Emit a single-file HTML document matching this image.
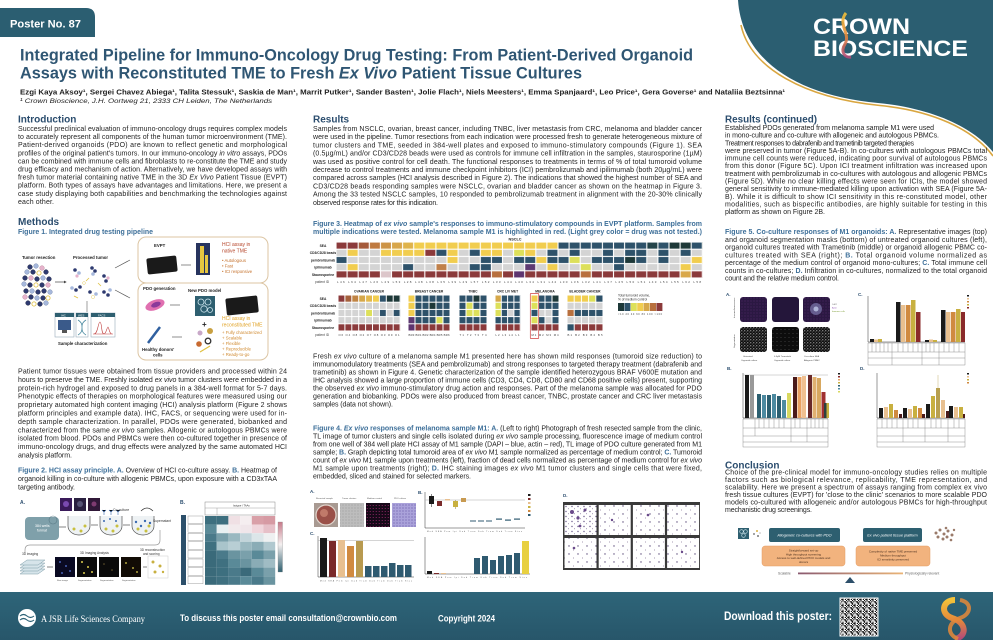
<!DOCTYPE html>
<html><head><meta charset="utf-8"><title>Poster No. 87</title>
<style>
html,body{margin:0;padding:0;background:#fff;width:993px;height:640px;overflow:hidden}
svg{display:block}
text{font-family:"Liberation Sans",Arial,sans-serif}
.p{font-size:7px;fill:#1f1f1f}
.h{font-size:10px;font-weight:bold;fill:#2b4d6e}
.fc{font-size:7px;font-weight:bold;fill:#3d6f99}
.i{font-style:italic}
.k{fill:#1f1f1f;font-weight:normal}
.t4{font-size:4.3px;font-weight:bold;fill:#222}
.t3{font-size:3.2px;fill:#333}
.lb{font-size:3.6px;fill:#222}
.ft{fill:#fff;font-weight:bold}
</style></head><body>
<svg width="993" height="640" viewBox="0 0 993 640" xmlns="http://www.w3.org/2000/svg">
<defs>
<linearGradient id="fg" x1="0" y1="0" x2="0" y2="1"><stop offset="0" stop-color="#2e6579"/><stop offset="1" stop-color="#27566a"/></linearGradient>
<linearGradient id="rib" x1="0" y1="0" x2="0" y2="1"><stop offset="0" stop-color="#f3c23a"/><stop offset="0.5" stop-color="#e58a3a"/><stop offset="1" stop-color="#b04a7a"/></linearGradient>
<linearGradient id="scl" x1="0" y1="0" x2="1" y2="0"><stop offset="0" stop-color="#8a5a70"/><stop offset="1" stop-color="#eab477"/></linearGradient>
<linearGradient id="cb" x1="0" y1="0" x2="0" y2="1"><stop offset="0" stop-color="#c77a8a"/><stop offset="0.45" stop-color="#f4f0f0"/><stop offset="1" stop-color="#2f6070"/></linearGradient>
<pattern id="gN" x="336" y="242" width="11.1" height="7.2" patternUnits="userSpaceOnUse"><rect width="11.1" height="7.2" fill="none" stroke="#fff" stroke-width="1.1"/></pattern>
<pattern id="gO" x="338" y="295" width="6.9" height="7.2" patternUnits="userSpaceOnUse"><rect width="6.9" height="7.2" fill="none" stroke="#fff" stroke-width="1"/></pattern>
<pattern id="gB" x="408" y="295" width="7" height="7.2" patternUnits="userSpaceOnUse"><rect width="7" height="7.2" fill="none" stroke="#fff" stroke-width="1"/></pattern>
<pattern id="gT" x="459" y="295" width="7" height="7.2" patternUnits="userSpaceOnUse"><rect width="7" height="7.2" fill="none" stroke="#fff" stroke-width="1"/></pattern>
<pattern id="gC" x="495" y="295" width="6.3" height="7.2" patternUnits="userSpaceOnUse"><rect width="6.3" height="7.2" fill="none" stroke="#fff" stroke-width="1"/></pattern>
<pattern id="gM" x="531" y="295" width="7" height="7.2" patternUnits="userSpaceOnUse"><rect width="7" height="7.2" fill="none" stroke="#fff" stroke-width="1"/></pattern>
<pattern id="gL" x="567" y="295" width="7.2" height="7.2" patternUnits="userSpaceOnUse"><rect width="7.2" height="7.2" fill="none" stroke="#fff" stroke-width="1"/></pattern>
<pattern id="spk" width="3" height="3" patternUnits="userSpaceOnUse"><rect width="3" height="3" fill="#0d0d0d"/><circle cx="0.8" cy="0.8" r="0.55" fill="#e8e8e8"/><circle cx="2.2" cy="2" r="0.45" fill="#9a9a9a"/></pattern>
<pattern id="spk2" width="4" height="4" patternUnits="userSpaceOnUse"><rect width="4" height="4" fill="#0d0d0d"/><circle cx="1" cy="1.5" r="0.4" fill="#777"/></pattern>
<pattern id="pur" width="3" height="3" patternUnits="userSpaceOnUse"><rect width="3" height="3" fill="#2b1842"/><circle cx="1" cy="1" r="0.5" fill="#5a2e72"/></pattern>
<pattern id="mag" width="3" height="3" patternUnits="userSpaceOnUse"><rect width="3" height="3" fill="#160818"/><circle cx="1.2" cy="1.5" r="0.5" fill="#b0307a"/></pattern>
<pattern id="lav" width="3" height="3" patternUnits="userSpaceOnUse"><rect width="3" height="3" fill="#aaa2da"/><circle cx="1" cy="1" r="0.6" fill="#6a5aa8"/></pattern>
<pattern id="gry" width="3" height="3" patternUnits="userSpaceOnUse"><rect width="3" height="3" fill="#bdbdbd"/><circle cx="1" cy="1" r="0.5" fill="#8a8a8a"/></pattern>
<pattern id="ihc" width="6" height="5" patternUnits="userSpaceOnUse"><rect width="6" height="5" fill="#fff"/><circle cx="2" cy="1.5" r="0.7" fill="#6a5a8a"/><circle cx="4.5" cy="3.8" r="0.5" fill="#8a7aa0"/></pattern>
<pattern id="ihc2" width="9" height="8" patternUnits="userSpaceOnUse"><rect width="9" height="8" fill="#fff"/><circle cx="2" cy="2" r="0.7" fill="#5a4a7a"/><circle cx="6.5" cy="6" r="0.5" fill="#8a7a9a"/></pattern>
<pattern id="qr" width="6" height="6" patternUnits="userSpaceOnUse"><rect width="6" height="6" fill="#fff"/><rect x="0" y="0" width="1.2" height="1.2" fill="#111"/><rect x="2.4" y="0" width="1.2" height="1.2" fill="#111"/><rect x="1.2" y="1.2" width="1.2" height="1.2" fill="#111"/><rect x="3.6" y="1.2" width="2.4" height="1.2" fill="#111"/><rect x="0" y="2.4" width="1.2" height="2.4" fill="#111"/><rect x="2.4" y="3.6" width="1.2" height="1.2" fill="#111"/><rect x="4.8" y="2.4" width="1.2" height="1.2" fill="#111"/><rect x="1.2" y="4.8" width="2.4" height="1.2" fill="#111"/><rect x="4.8" y="4.8" width="1.2" height="1.2" fill="#111"/></pattern>
<marker id="ar" markerWidth="4" markerHeight="4" refX="3" refY="2" orient="auto"><path d="M0,0 L4,2 L0,4 Z" fill="#444"/></marker>
</defs>

<!-- HEADER -->
<path d="M0,8 H86 Q95,8 95,17 V37 H0 Z" fill="#2b5e71"/>
<text x="10" y="27.5" font-size="11" font-weight="bold" fill="#fff" textLength="71" lengthAdjust="spacingAndGlyphs">Poster No. 87</text>
<path d="M738,0 C742,62 800,96 878,103 C930,108 972,126 993,152 L993,0 Z" fill="#2b5e71"/>
<path d="M741,25 C750,68 805,98 880,105.5 C932,110.5 973,129 993,156" stroke="#d9a640" stroke-width="1.6" fill="none"/>
<text x="813" y="34" font-size="22" font-weight="bold" fill="#fff" textLength="97" lengthAdjust="spacingAndGlyphs">CROWN</text>
<text x="813" y="56" font-size="22" font-weight="bold" fill="#fff" textLength="155" lengthAdjust="spacingAndGlyphs">BIOSCIENCE</text>
<path d="M846,13 C837,24 851,34 845,44 C840,52 845,58 851,57" stroke="url(#rib)" stroke-width="3" fill="none" opacity="0.9"/>

<text x="20" y="60.5" font-size="17" font-weight="bold" fill="#2f5673" textLength="673" lengthAdjust="spacingAndGlyphs">Integrated Pipeline for Immuno-Oncology Drug Testing: From Patient-Derived Organoid</text>
<text x="20" y="78.5" font-size="17" font-weight="bold" fill="#2f5673" textLength="562" lengthAdjust="spacingAndGlyphs">Assays with Reconstituted TME to Fresh <tspan class="i">Ex Vivo</tspan> Patient Tissue Cultures</text>
<text x="20" y="94.5" font-size="7" font-weight="bold" fill="#222" textLength="765" lengthAdjust="spacingAndGlyphs">Ezgi Kaya Aksoy¹, Sergei Chavez Abiega¹, Talita Stessuk¹, Saskia de Man¹, Marrit Putker¹, Sander Basten¹, Jolie Flach¹, Niels Meesters¹, Emma Spanjaard¹, Leo Price¹, Gera Goverse¹ and Nataliia Beztsinna¹</text>
<text x="20" y="103" font-size="6.8" font-style="italic" fill="#222" textLength="252" lengthAdjust="spacingAndGlyphs">¹ Crown Bioscience, J.H. Oortweg 21, 2333 CH Leiden, The Netherlands</text>

<!-- LEFT COLUMN -->
<text x="18" y="122.5" class="h">Introduction</text>
<g class="p">
<text x="18" y="131" textLength="269" lengthAdjust="spacing">Successful preclinical evaluation of immuno-oncology drugs requires complex models</text>
<text x="18" y="139.1" textLength="269" lengthAdjust="spacing">to accurately represent all components of the human tumor microenvironment (TME).</text>
<text x="18" y="147.2" textLength="269" lengthAdjust="spacing">Patient-derived organoids (PDO) are known to reflect genetic and morphological</text>
<text x="18" y="155.3" textLength="269" lengthAdjust="spacing">profiles of the original patient's tumors. In our immuno-oncology <tspan class="i">in vitro</tspan> assays, PDOs</text>
<text x="18" y="163.4" textLength="269" lengthAdjust="spacing">can be combined with immune cells and fibroblasts to re-constitute the TME and study</text>
<text x="18" y="171.5" textLength="269" lengthAdjust="spacing">drug efficacy and mechanism of action. Alternatively, we have developed assays with</text>
<text x="18" y="179.6" textLength="269" lengthAdjust="spacing">fresh tumor material containing native TME in the 3D <tspan class="i">Ex Vivo</tspan> Patient Tissue (EVPT)</text>
<text x="18" y="187.7" textLength="269" lengthAdjust="spacing">platform. Both types of assays have advantages and limitations. Here, we present a</text>
<text x="18" y="195.8" textLength="269" lengthAdjust="spacing">case study displaying both capabilities and benchmarking the technologies against</text>
<text x="18" y="203.9" textLength="36" lengthAdjust="spacing">each other.</text>
</g>
<text x="18" y="225" class="h">Methods</text>
<text x="18" y="234" class="fc" textLength="135" lengthAdjust="spacingAndGlyphs">Figure 1. Integrated drug testing pipeline</text>

<!-- Figure 1 -->
<text x="22" y="259" class="t4">Tumor resection</text>
<text x="73" y="259" class="t4">Processed tumor</text>
<g stroke-width="0.5">
<g fill="#2e3a70" stroke="#1a2040"><circle cx="30" cy="267" r="2.3"/><circle cx="33" cy="272" r="2.3"/><circle cx="46" cy="272" r="2.3"/><circle cx="25" cy="278" r="2.3"/><circle cx="37" cy="279" r="2.3"/><circle cx="49" cy="279" r="2.3"/><circle cx="30" cy="285" r="2.3"/><circle cx="42" cy="285" r="2.3"/><circle cx="26" cy="291" r="2.3"/><circle cx="38" cy="292" r="2.3"/><circle cx="44" cy="291" r="2.3"/><circle cx="31" cy="297" r="2.3"/><circle cx="43" cy="298" r="2.3"/><circle cx="28" cy="303" r="2.3"/><circle cx="40" cy="304" r="2.3"/></g>
<g fill="#a6b8dc" stroke="#7a8cb0"><circle cx="36" cy="266" r="2.3"/><circle cx="27" cy="272" r="2.3"/><circle cx="43" cy="278" r="2.3"/><circle cx="24" cy="284" r="2.3"/><circle cx="32" cy="291" r="2.3"/><circle cx="50" cy="292" r="2.3"/><circle cx="37" cy="298" r="2.3"/><circle cx="46" cy="303" r="2.3"/></g>
<g fill="#e6b3cc" stroke="#c08aa0"><circle cx="42" cy="268" r="2.3"/><circle cx="31" cy="278" r="2.3"/><circle cx="48" cy="285" r="2.3"/><circle cx="25" cy="297" r="2.3"/></g>
<g fill="#fff" stroke="#e0c040" stroke-width="0.8"><circle cx="39" cy="273" r="2.1"/><circle cx="36" cy="285" r="2.1"/><circle cx="48" cy="298" r="2.1"/><circle cx="34" cy="304" r="2.1"/></g>
</g>
<line x1="55" y1="282" x2="66" y2="282" stroke="#444" stroke-width="0.7" marker-end="url(#ar)"/>
<g stroke-width="0.4">
<g fill="#2e3a70"><circle cx="75" cy="270" r="1.8"/><circle cx="92" cy="268" r="1.8"/><circle cx="95" cy="271" r="1.8"/><circle cx="104" cy="276" r="1.8"/><circle cx="106" cy="281" r="1.8"/><circle cx="76" cy="290" r="1.8"/><circle cx="80" cy="287" r="1.8"/><circle cx="90" cy="292" r="1.8"/><circle cx="104" cy="292" r="1.8"/><circle cx="108" cy="295" r="1.8"/></g>
<g fill="#a6b8dc"><circle cx="79" cy="273" r="1.8"/><circle cx="93" cy="274" r="1.8"/><circle cx="72" cy="288" r="1.8"/><circle cx="96" cy="294" r="1.8"/><circle cx="110" cy="290" r="1.8"/></g>
<g fill="#e6b3cc"><circle cx="77" cy="276" r="1.6"/><circle cx="108" cy="278" r="1.6"/></g>
<g fill="#fff" stroke="#e0c040"><circle cx="93" cy="297" r="1.6"/><circle cx="84" cy="283" r="1.4"/></g>
</g>
<g stroke="#e0c040" stroke-width="0.8"><line x1="86" y1="281" x2="89" y2="278"/><line x1="98" y1="283" x2="101" y2="286"/><line x1="74" y1="296" x2="78" y2="298"/></g>
<line x1="115" y1="268" x2="130" y2="260" stroke="#555" stroke-width="0.7"/>
<line x1="115" y1="290" x2="130" y2="298" stroke="#555" stroke-width="0.7"/>
<line x1="87" y1="301" x2="87" y2="312" stroke="#777" stroke-width="0.7"/>
<g>
<rect x="55" y="313" width="19" height="24" fill="#fff" stroke="#9ab" stroke-width="0.6"/><rect x="55" y="313" width="19" height="4" fill="#2e5f70"/><text x="61" y="316.3" font-size="2.8" fill="#fff">IHC</text>
<rect x="58" y="320" width="13" height="10" fill="#3a5a8a"/><rect x="62" y="330" width="5" height="3" fill="#555"/>
<rect x="76" y="313" width="12" height="24" fill="#fff" stroke="#9ab" stroke-width="0.6"/><rect x="76" y="313" width="12" height="4" fill="#2e5f70"/><text x="78" y="316.3" font-size="2.8" fill="#fff">WES</text>
<path d="M78,320 C86,325 78,330 86,335 M86,320 C78,325 86,330 78,335" stroke="#4a8aa0" stroke-width="0.8" fill="none"/>
<rect x="91" y="313" width="24" height="24" fill="#fff" stroke="#9ab" stroke-width="0.6"/><rect x="91" y="313" width="24" height="4" fill="#2e5f70"/><text x="98" y="316.3" font-size="2.8" fill="#fff">FACS</text>
<path d="M93,334 H113 M94,334 C98,334 98,322 100,322 C102,322 101,334 104,334 C106,334 107,327 108,327 C109,327 109,334 112,334" stroke="#c04040" stroke-width="0.6" fill="none"/>
</g>
<text x="58" y="345" class="t4">Sample characterization</text>

<rect x="138" y="237" width="130" height="46" rx="8" fill="#fff" stroke="#dcc5a3" stroke-width="1"/>
<text x="154" y="247" class="t4">EVPT</text>
<rect x="147" y="257" width="30" height="16" rx="2" fill="#1a1a1a" transform="rotate(-6 162 265)"/>
<line x1="181" y1="265" x2="191" y2="265" stroke="#444" stroke-width="0.6"/>
<rect x="196" y="243" width="14" height="32" fill="#27345e"/><rect x="200" y="246" width="4" height="27" fill="#e7c640"/><rect x="205" y="255" width="3" height="18" fill="#e7c640"/>
<text x="222" y="246" font-size="5" fill="#b5452a">HCI assay in</text>
<text x="222" y="252.5" font-size="5" fill="#b5452a">native TME</text>
<g font-size="4.3" fill="#c4702a"><text x="222" y="262">•  Autologous</text><text x="222" y="267.5">•  Fast</text><text x="222" y="273">•  ICI responsive</text></g>

<rect x="138" y="283" width="130" height="77" rx="8" fill="#fff" stroke="#dcc5a3" stroke-width="1"/>
<text x="143" y="290" class="t4">PDO generation</text>
<ellipse cx="155" cy="305" rx="10" ry="5" fill="#e070b0" transform="rotate(-20 155 305)"/>
<ellipse cx="156" cy="305" rx="5" ry="2.5" fill="#8a3a9a" transform="rotate(-20 155 305)"/>
<line x1="170" y1="305" x2="180" y2="305" stroke="#444" stroke-width="0.6"/>
<text x="188" y="292" class="t4">New PDO model</text>
<rect x="195" y="296" width="20" height="20" fill="#2e5f70"/>
<g fill="none" stroke="#cfe6ee" stroke-width="0.8"><circle cx="201" cy="302" r="3"/><circle cx="208" cy="302" r="3"/><circle cx="204" cy="309" r="3.2"/><circle cx="210" cy="310" r="2.5"/></g>
<rect x="226" y="297" width="32" height="17" rx="2" fill="#1a1a1a" transform="rotate(-6 242 305)"/>
<text x="202" y="327" font-size="8" font-weight="bold" fill="#222">+</text>
<text x="222" y="320" font-size="5" fill="#e0a020">HCI assay in</text>
<text x="222" y="326.5" font-size="5" fill="#e0a020">reconstituted TME</text>
<g font-size="4.3" fill="#d08a30"><text x="222" y="334">+  Fully characterized</text><text x="222" y="339.5">+  Scalable</text><text x="222" y="345">+  Flexible</text><text x="222" y="350.5">+  Reproducible</text><text x="222" y="356">+  Ready-to-go</text></g>
<line x1="148" y1="343" x2="160" y2="327" stroke="#3060a0" stroke-width="2.5"/>
<text x="142" y="351" class="t4">Healthy donors'</text>
<text x="153" y="356.5" class="t4">cells</text>
<line x1="172" y1="337" x2="182" y2="337" stroke="#444" stroke-width="0.6"/>
<circle cx="210" cy="331" r="3" fill="#c8a040"/><circle cx="208" cy="341" r="2.8" fill="none" stroke="#333" stroke-width="1.3"/><circle cx="200" cy="333" r="2.5" fill="#c8a8c8"/><circle cx="199" cy="344" r="2.8" fill="#c86a30"/><line x1="200" y1="352" x2="210" y2="346" stroke="#e0c040" stroke-width="1.2"/>

<g class="p">
<text x="18" y="373.5" textLength="269" lengthAdjust="spacing">Patient tumor tissues were obtained from tissue providers and processed within 24</text>
<text x="18" y="381.9" textLength="269" lengthAdjust="spacing">hours to preserve the TME. Freshly isolated <tspan class="i">ex vivo</tspan> tumor clusters were embedded in a</text>
<text x="18" y="390.3" textLength="269" lengthAdjust="spacing">protein-rich hydrogel and exposed to drug panels in a 384-well format for 5-7 days.</text>
<text x="18" y="398.7" textLength="269" lengthAdjust="spacing">Phenotypic effects of therapies on morphological features were measured using our</text>
<text x="18" y="407.1" textLength="269" lengthAdjust="spacing">proprietary automated high content imaging (HCI) analysis platform (Figure 2 shows</text>
<text x="18" y="415.5" textLength="269" lengthAdjust="spacing">platform principles and example data). IHC, FACS, or sequencing were used for in-</text>
<text x="18" y="423.9" textLength="269" lengthAdjust="spacing">depth sample characterization. In parallel, PDOs were generated, biobanked and</text>
<text x="18" y="432.3" textLength="269" lengthAdjust="spacing">characterized from the same <tspan class="i">ex vivo</tspan> samples. Allogenic or autologous PBMCs were</text>
<text x="18" y="440.7" textLength="269" lengthAdjust="spacing">isolated from blood. PDOs and PBMCs were then co-cultured together in presence of</text>
<text x="18" y="449.1" textLength="269" lengthAdjust="spacing">immuno-oncology drugs, and drug effects were analyzed by the same automated HCI</text>
<text x="18" y="457.5" textLength="54" lengthAdjust="spacing">analysis platform.</text>
</g>
<text x="18" y="472.5" class="fc" textLength="259" lengthAdjust="spacing">Figure 2. HCI assay principle. A.<tspan class="k"> Overview of HCI co-culture assay. </tspan>B.<tspan class="k"> Heatmap of</tspan></text>
<text x="18" y="481" class="p" textLength="259" lengthAdjust="spacing">organoid killing in co-culture with allogenic PBMCs, upon exposure with a CD3xTAA</text>
<text x="18" y="489.5" class="p" textLength="57" lengthAdjust="spacing">targeting antibody.</text>

<!-- Figure 2A -->
<text x="20" y="504" font-size="5" font-weight="bold" fill="#2b4d6e">A.</text>
<rect x="60" y="498" width="12" height="13" fill="#3a1a5a"/><rect x="74" y="498" width="12" height="13" fill="#2a2040"/><rect x="88" y="498" width="12" height="13" fill="#301838"/>
<circle cx="66" cy="504" r="3" fill="#7a4ab0"/><circle cx="80" cy="504" r="3" fill="#6a6a8a" opacity="0.7"/><circle cx="94" cy="504" r="2.5" fill="#a04a8a" opacity="0.7"/>
<rect x="25" y="517" width="34" height="23" rx="4" fill="#7fa0aa"/>
<text x="35" y="527" font-size="3.5" fill="#fff">384 wells</text><text x="37" y="531.5" font-size="3.5" fill="#fff">format</text>
<circle cx="53" cy="520" r="4" fill="none" stroke="#5a7a86" stroke-width="0.6"/>
<line x1="59" y1="527" x2="66" y2="527" stroke="#333" stroke-width="0.6"/>
<g fill="#eef2f4" stroke="#555" stroke-width="0.7">
<path d="M68,516 v10 a11,9 0 0 0 22,0 v-10"/><path d="M100,516 v10 a11,9 0 0 0 22,0 v-10"/><path d="M132,516 v10 a11,9 0 0 0 22,0 v-10"/>
</g>
<g fill="#c8c040"><circle cx="74" cy="529" r="1.5"/><circle cx="81" cy="531" r="1.5"/><circle cx="85" cy="526" r="1.5"/><circle cx="106" cy="529" r="1.5"/><circle cx="113" cy="531" r="1.5"/><circle cx="117" cy="526" r="1.5"/><circle cx="138" cy="529" r="1.5"/><circle cx="146" cy="531" r="1.5"/><circle cx="149" cy="526" r="1.5"/></g>
<g fill="#3a6ab0"><circle cx="104" cy="521" r="1"/><circle cx="110" cy="519" r="1"/><circle cx="116" cy="521" r="1"/><circle cx="136" cy="522" r="1.2"/><circle cx="141" cy="526" r="1.2"/><circle cx="145" cy="521" r="1.2"/><circle cx="150" cy="523" r="1.2"/></g>
<g stroke="#3a6ab0" stroke-width="0.6"><path d="M104,512 v3 M102,510 l2,2 l2,-2 M111,512 v3 M109,510 l2,2 l2,-2 M118,512 v3 M116,510 l2,2 l2,-2"/></g>
<line x1="91" y1="525" x2="98" y2="525" stroke="#333" stroke-width="0.6"/><line x1="123" y1="525" x2="130" y2="525" stroke="#333" stroke-width="0.6"/>
<text x="113" y="511" font-size="3.5" fill="#333">Co-culture</text>
<path d="M141,511 q6,-6 12,0" stroke="#333" stroke-width="0.8" fill="none"/>
<text x="153" y="522" font-size="3.3" fill="#333">Supernatant</text>
<path d="M160,530 V540 Q160,545 155,545 H30 Q25,545 25,550 V553" stroke="#999" stroke-width="0.7" fill="none"/>
<g font-size="3.2" fill="#333"><text x="22" y="555">3D imaging</text><text x="80" y="554">3D Imaging Analysis</text><text x="140" y="551">3D reconstruction</text><text x="143" y="555">and scoring</text></g>
<g fill="#d6e4ea" stroke="#7a9aa6" stroke-width="0.5"><polygon points="20,574 38,574 45,569 27,569"/><polygon points="20,571 38,571 45,566 27,566"/><polygon points="20,568 38,568 45,563 27,563"/><polygon points="20,565 38,565 45,560 27,560"/></g>
<line x1="47" y1="567" x2="53" y2="567" stroke="#333" stroke-width="0.6"/>
<rect x="55" y="557" width="20" height="20" fill="#0a0a22"/><rect x="77" y="557" width="20" height="20" fill="#0c0c0c"/><rect x="99" y="557" width="20" height="20" fill="#0a0a0a"/><rect x="121" y="557" width="20" height="20" fill="#120c05"/>
<g fill="#5a7ae0"><circle cx="60" cy="562" r="0.9"/><circle cx="66" cy="566" r="0.9"/><circle cx="70" cy="571" r="0.9"/><circle cx="62" cy="573" r="0.9"/></g>
<g fill="#e0d050"><circle cx="82" cy="562" r="1"/><circle cx="88" cy="567" r="1"/><circle cx="92" cy="572" r="1"/><circle cx="84" cy="573" r="1"/><circle cx="126" cy="563" r="0.9"/><circle cx="133" cy="568" r="0.9"/><circle cx="137" cy="572" r="0.9"/></g>
<g fill="#6a5a30"><circle cx="104" cy="564" r="0.8"/><circle cx="112" cy="570" r="0.8"/></g>
<line x1="143" y1="567" x2="147" y2="567" stroke="#333" stroke-width="0.6"/>
<rect x="148" y="556" width="20" height="22" fill="#fff" stroke="#ccc" stroke-width="0.5"/>
<g fill="#c8b040"><circle cx="153" cy="562" r="1.5"/><circle cx="160" cy="566" r="1.5"/><circle cx="155" cy="572" r="1.5"/><circle cx="163" cy="572" r="1.2"/></g>
<g font-size="2.2" fill="#555"><text x="57" y="581">Raw image</text><text x="78" y="581">Segmentation</text><text x="100" y="581">Segmentation</text><text x="122" y="581">Segmentation</text></g>

<!-- Figure 2B -->
<text x="180" y="504" font-size="5" font-weight="bold" fill="#2b4d6e">B.</text>
<rect x="205" y="502" width="70" height="13" fill="#fff" stroke="#888" stroke-width="0.5"/>
<line x1="205" y1="508" x2="275" y2="508" stroke="#888" stroke-width="0.4"/><line x1="217" y1="508" x2="217" y2="515" stroke="#888" stroke-width="0.4"/>
<text x="233" y="506.5" font-size="2.6" fill="#333">Isotype / TAAs</text>
<rect x="181" y="515" width="5" height="70" fill="#2c4f6a"/>
<g fill="#fff" stroke="#888" stroke-width="0.4"><rect x="188" y="516" width="15" height="7.6"/><rect x="188" y="524.6" width="15" height="7.6"/><rect x="188" y="533.2" width="15" height="7.6"/><rect x="188" y="541.8" width="15" height="7.6"/><rect x="188" y="550.4" width="15" height="7.6"/><rect x="188" y="559" width="15" height="7.6"/><rect x="188" y="567.6" width="15" height="7.6"/><rect x="188" y="576.2" width="15" height="7.6"/></g>
<g>
<rect x="205" y="516" width="11.7" height="8.6" fill="#3d6f7f"/><rect x="216.7" y="516" width="11.7" height="8.6" fill="#3d6f7f"/><rect x="228.4" y="516" width="11.7" height="8.6" fill="#f0e0e4"/><rect x="240.1" y="516" width="11.7" height="8.6" fill="#f5eef0"/><rect x="251.8" y="516" width="11.7" height="8.6" fill="#d9a0a8"/><rect x="263.5" y="516" width="11.7" height="8.6" fill="#d69aa3"/>
<rect x="205" y="524.6" width="11.7" height="8.6" fill="#5a8a98"/><rect x="216.7" y="524.6" width="11.7" height="8.6" fill="#e8f0f2"/><rect x="228.4" y="524.6" width="11.7" height="8.6" fill="#f2eaec"/><rect x="240.1" y="524.6" width="11.7" height="8.6" fill="#f0e6ea"/><rect x="251.8" y="524.6" width="11.7" height="8.6" fill="#f0d6dc"/><rect x="263.5" y="524.6" width="11.7" height="8.6" fill="#e6c0c8"/>
<rect x="205" y="533.2" width="11.7" height="8.6" fill="#4a7a8a"/><rect x="216.7" y="533.2" width="11.7" height="8.6" fill="#7aa0ab"/><rect x="228.4" y="533.2" width="11.7" height="8.6" fill="#9ab8c0"/><rect x="240.1" y="533.2" width="11.7" height="8.6" fill="#c2d4da"/><rect x="251.8" y="533.2" width="11.7" height="8.6" fill="#dce6e9"/><rect x="263.5" y="533.2" width="11.7" height="8.6" fill="#eef0f1"/>
<rect x="205" y="541.8" width="11.7" height="8.6" fill="#3f7080"/><rect x="216.7" y="541.8" width="11.7" height="8.6" fill="#a9c4cb"/><rect x="228.4" y="541.8" width="11.7" height="8.6" fill="#b8ced4"/><rect x="240.1" y="541.8" width="11.7" height="8.6" fill="#9ab8c0"/><rect x="251.8" y="541.8" width="11.7" height="8.6" fill="#8aacb6"/><rect x="263.5" y="541.8" width="11.7" height="8.6" fill="#b0c8cf"/>
<rect x="205" y="550.4" width="11.7" height="8.6" fill="#3a6a7a"/><rect x="216.7" y="550.4" width="11.7" height="8.6" fill="#4a7a8a"/><rect x="228.4" y="550.4" width="11.7" height="8.6" fill="#6a94a0"/><rect x="240.1" y="550.4" width="11.7" height="8.6" fill="#7aa0ab"/><rect x="251.8" y="550.4" width="11.7" height="8.6" fill="#5a8a98"/><rect x="263.5" y="550.4" width="11.7" height="8.6" fill="#7aa0ab"/>
<rect x="205" y="559" width="11.7" height="8.6" fill="#3a6a7a"/><rect x="216.7" y="559" width="11.7" height="8.6" fill="#3f7080"/><rect x="228.4" y="559" width="11.7" height="8.6" fill="#5a8a98"/><rect x="240.1" y="559" width="11.7" height="8.6" fill="#6a94a0"/><rect x="251.8" y="559" width="11.7" height="8.6" fill="#8aacb6"/><rect x="263.5" y="559" width="11.7" height="8.6" fill="#a0bcc4"/>
<rect x="205" y="567.6" width="11.7" height="8.6" fill="#3a6a7a"/><rect x="216.7" y="567.6" width="11.7" height="8.6" fill="#3d6f7f"/><rect x="228.4" y="567.6" width="11.7" height="8.6" fill="#4a7a8a"/><rect x="240.1" y="567.6" width="11.7" height="8.6" fill="#3a6a7a"/><rect x="251.8" y="567.6" width="11.7" height="8.6" fill="#5a8a98"/><rect x="263.5" y="567.6" width="11.7" height="8.6" fill="#7aa0ab"/>
<rect x="205" y="576.2" width="11.7" height="8.6" fill="#3a6a7a"/><rect x="216.7" y="576.2" width="11.7" height="8.6" fill="#3f7080"/><rect x="228.4" y="576.2" width="11.7" height="8.6" fill="#4a7a8a"/><rect x="240.1" y="576.2" width="11.7" height="8.6" fill="#5a8a98"/><rect x="251.8" y="576.2" width="11.7" height="8.6" fill="#4a7a8a"/><rect x="263.5" y="576.2" width="11.7" height="8.6" fill="#6a94a0"/>
</g>
<rect x="278" y="522" width="4.5" height="50" fill="url(#cb)" stroke="#888" stroke-width="0.3"/>

<!-- MIDDLE COLUMN -->
<text x="313" y="122.5" class="h">Results</text>
<g class="p">
<text x="313" y="131" textLength="389" lengthAdjust="spacing">Samples from NSCLC, ovarian, breast cancer, including TNBC, liver metastasis from CRC, melanoma and bladder cancer</text>
<text x="313" y="139.2" textLength="389" lengthAdjust="spacing">were used in the pipeline. Tumor resections from each indication were processed fresh to generate heterogeneous mixture of</text>
<text x="313" y="147.4" textLength="389" lengthAdjust="spacing">tumor clusters and TME, seeded in 384-well plates and exposed to immuno-stimulatory compounds (Figure 1). SEA</text>
<text x="313" y="155.6" textLength="389" lengthAdjust="spacing">(0.5µg/mL) and/or CD3/CD28 beads were used as controls for immune cell infiltration in the samples, staurosporine (1µM)</text>
<text x="313" y="163.8" textLength="389" lengthAdjust="spacing">was used as positive control for cell death. The functional responses to treatments in terms of % of total tumoroid volume</text>
<text x="313" y="172" textLength="389" lengthAdjust="spacing">decrease to control treatments and immune checkpoint inhibitors (ICI) pembrolizumab and ipilimumab (both 20µg/mL) were</text>
<text x="313" y="180.2" textLength="389" lengthAdjust="spacing">compared across samples (HCI analysis described in Figure 2). The indications that showed the highest number of SEA and</text>
<text x="313" y="188.4" textLength="389" lengthAdjust="spacing">CD3/CD28 beads responding samples were NSCLC, ovarian and bladder cancer as shown on the heatmap in Figure 3.</text>
<text x="313" y="196.6" textLength="389" lengthAdjust="spacing">Among the 33 tested NSCLC samples, 10 responded to pembrolizumab treatment in alignment with the 20-30% clinically</text>
<text x="313" y="204.8" textLength="125" lengthAdjust="spacing">observed response rates for this indication.</text>
</g>
<text x="313" y="226" class="fc" textLength="389" lengthAdjust="spacing">Figure 3. Heatmap of <tspan class="i">ex vivo</tspan> sample's responses to immuno-stimulatory compounds in EVPT platform. Samples from</text>
<text x="313" y="234" class="fc" textLength="389" lengthAdjust="spacing">multiple indications were tested. Melanoma sample M1 is highlighted in red. (Light grey color = drug was not tested.)</text>

<!-- NSCLC heatmap -->
<text x="515" y="240.3" font-size="3.8" font-weight="bold" fill="#222" text-anchor="middle">NSCLC</text>
<g font-size="3.3" fill="#222" text-anchor="middle" font-weight="bold">
<text x="323" y="247">SEA</text><text x="323" y="254.2">CD3/CD28 beads</text><text x="323" y="261.4">pembrolizumab</text><text x="323" y="268.6">ipilimumab</text><text x="323" y="275.8">Staurosporine</text>
<text x="323" y="300">SEA</text><text x="323" y="307.2">CD3/CD28 beads</text><text x="323" y="314.4">pembrolizumab</text><text x="323" y="321.6">ipilimumab</text><text x="323" y="328.8">Staurosporine</text>
</g>
<g font-size="3.3" fill="#444"><text x="315" y="283">patient ID</text><text x="315" y="336">patient ID</text></g>
<!-- SEA row -->
<rect x="336" y="242" width="366.3" height="7.2" fill="#f1cd4f"/>
<rect x="336" y="242" width="22.2" height="7.2" fill="#8b3a3b"/>
<rect x="358.2" y="242" width="11.1" height="7.2" fill="#a55a3a"/>
<rect x="369.3" y="242" width="11.1" height="7.2" fill="#bf7a40"/>
<rect x="380.4" y="242" width="11.1" height="7.2" fill="#cd9446"/>
<rect x="391.5" y="242" width="11.1" height="7.2" fill="#d8a64a"/>
<rect x="402.6" y="242" width="11.1" height="7.2" fill="#dfb34b"/>
<rect x="558" y="242" width="144.3" height="7.2" fill="#2e526a"/>
<rect x="646.8" y="242" width="11.1" height="7.2" fill="#24444a"/>
<rect x="669" y="242" width="22.2" height="7.2" fill="#1d3838"/>
<!-- CD3 row -->
<rect x="336" y="249.2" width="366.3" height="21.6" fill="#d4d4d4"/>
<g fill="#f1cd4f"><rect x="347.1" y="249.2" width="11.1" height="7.2"/><rect x="380.4" y="249.2" width="44.4" height="7.2"/><rect x="447" y="249.2" width="11.1" height="7.2"/><rect x="480.3" y="249.2" width="22.2" height="7.2"/><rect x="524.7" y="249.2" width="11.1" height="7.2"/></g>
<rect x="424.8" y="249.2" width="11.1" height="7.2" fill="#8b3a3b"/>
<g fill="#2e526a"><rect x="435.9" y="249.2" width="11.1" height="7.2"/><rect x="469.2" y="249.2" width="11.1" height="7.2"/><rect x="546.9" y="249.2" width="11.1" height="7.2"/><rect x="569.1" y="249.2" width="11.1" height="7.2"/><rect x="602.4" y="249.2" width="11.1" height="7.2"/><rect x="624.6" y="249.2" width="22.2" height="7.2"/><rect x="657.9" y="249.2" width="11.1" height="7.2"/><rect x="680.1" y="249.2" width="11.1" height="7.2"/></g>
<rect x="513.6" y="249.2" width="11.1" height="7.2" fill="#dde05a"/>
<!-- pembro row -->
<g fill="#2e526a"><rect x="336" y="256.4" width="11.1" height="7.2"/><rect x="480.3" y="256.4" width="22.2" height="7.2"/><rect x="513.6" y="256.4" width="22.2" height="7.2"/><rect x="546.9" y="256.4" width="22.2" height="7.2"/><rect x="591.3" y="256.4" width="33.3" height="7.2"/><rect x="635.7" y="256.4" width="11.1" height="7.2"/><rect x="657.9" y="256.4" width="11.1" height="7.2"/></g>
<rect x="624.6" y="256.4" width="11.1" height="7.2" fill="#1d3838"/>
<g fill="#f1cd4f"><rect x="447" y="256.4" width="11.1" height="7.2"/><rect x="535.8" y="256.4" width="11.1" height="7.2"/><rect x="691.2" y="256.4" width="11.1" height="7.2"/></g>
<rect x="569.1" y="256.4" width="11.1" height="7.2" fill="#dde05a"/>
<!-- ipili row -->
<g fill="#f1cd4f"><rect x="347.1" y="263.6" width="11.1" height="7.2"/><rect x="546.9" y="263.6" width="11.1" height="7.2"/><rect x="680.1" y="263.6" width="11.1" height="7.2"/></g>
<g fill="#2e526a"><rect x="402.6" y="263.6" width="11.1" height="7.2"/><rect x="469.2" y="263.6" width="22.2" height="7.2"/><rect x="613.5" y="263.6" width="11.1" height="7.2"/></g>
<rect x="435.9" y="263.6" width="11.1" height="7.2" fill="#c0804a"/>
<rect x="524.7" y="263.6" width="11.1" height="7.2" fill="#5e3a72"/>
<rect x="580.2" y="263.6" width="11.1" height="7.2" fill="#dde05a"/>
<!-- stauro row -->
<rect x="336" y="270.8" width="366.3" height="7.2" fill="#8b3a3b"/>
<rect x="380.4" y="270.8" width="11.1" height="7.2" fill="#dcc6ca"/>
<rect x="491.4" y="270.8" width="11.1" height="7.2" fill="#b8703e"/>
<rect x="580.2" y="270.8" width="11.1" height="7.2" fill="#b8703e"/>
<rect x="513.6" y="270.8" width="11.1" height="7.2" fill="#5e3570"/>
<rect x="680.1" y="270.8" width="11.1" height="7.2" fill="#d9a84a"/>
<rect x="336" y="242" width="366.3" height="36" fill="url(#gN)"/>
<text x="337" y="283" font-size="3" fill="#444" textLength="364" lengthAdjust="spacing">L46 L64 L47 L26 L29 L53 L28 L48 L38 L35 L39 L49 L57 L52 L33 L44 L40 L34 L31 L42 L30 L36 L32 L41 L37 L45 L50 L51 L43 L54 L55 L62 L58</text>

<!-- bottom heatmaps -->
<g font-size="3.3" font-weight="bold" fill="#222" text-anchor="middle">
<text x="369" y="292.5">OVARIAN CANCER</text><text x="429" y="292.5">BREAST CANCER</text><text x="473" y="292.5">TNBC</text><text x="507.6" y="292.5">CRC LIV MET</text><text x="545" y="292.5">MELANOMA</text><text x="585" y="292.5">BLADDER CANCER</text>
</g>
<!-- ovarian -->
<rect x="338" y="302.2" width="62.1" height="21.6" fill="#d4d4d4"/>
<rect x="338" y="295" width="6.9" height="7.2" fill="#8b3a3b"/><rect x="344.9" y="295" width="6.9" height="7.2" fill="#a5603c"/><rect x="351.8" y="295" width="6.9" height="7.2" fill="#c08443"/><rect x="358.7" y="295" width="6.9" height="7.2" fill="#d6a84a"/><rect x="365.6" y="295" width="6.9" height="7.2" fill="#e2b84c"/><rect x="372.5" y="295" width="6.9" height="7.2" fill="#f1cd4f"/><rect x="379.4" y="295" width="6.9" height="7.2" fill="#2e526a"/><rect x="386.3" y="295" width="13.8" height="7.2" fill="#1d3838"/>
<rect x="365.6" y="309.4" width="6.9" height="7.2" fill="#dde05a"/><rect x="379.4" y="309.4" width="6.9" height="7.2" fill="#2e526a"/><rect x="393.2" y="309.4" width="6.9" height="7.2" fill="#2e526a"/>
<rect x="338" y="323.8" width="62.1" height="7.2" fill="#8b3a3b"/>
<rect x="338" y="295" width="62.1" height="36" fill="url(#gO)"/>
<!-- breast -->
<rect x="408" y="295" width="42" height="28.8" fill="#2e526a"/>
<rect x="408" y="295" width="7" height="21.6" fill="#f1cd4f"/><rect x="408" y="316.6" width="7" height="7.2" fill="#5e3a72"/>
<rect x="429" y="302.2" width="7" height="7.2" fill="#1d3838"/><rect x="436" y="316.6" width="7" height="7.2" fill="#dde05a"/>
<rect x="408" y="323.8" width="42" height="7.2" fill="#8b3a3b"/><rect x="408" y="323.8" width="7" height="7.2" fill="#5e3570"/>
<rect x="408" y="295" width="42" height="36" fill="url(#gB)"/>
<!-- TNBC -->
<rect x="459" y="295" width="28" height="28.8" fill="#2e526a"/>
<rect x="473" y="295" width="7" height="7.2" fill="#1d3838"/><rect x="466" y="302.2" width="7" height="7.2" fill="#dde05a"/><rect x="466" y="309.4" width="14" height="7.2" fill="#dde05a"/>
<rect x="459" y="323.8" width="28" height="7.2" fill="#8b3a3b"/>
<rect x="459" y="295" width="28" height="36" fill="url(#gT)"/>
<!-- CRC -->
<rect x="495" y="295" width="25.2" height="28.8" fill="#2e526a"/>
<rect x="495" y="295" width="6.3" height="7.2" fill="#d6a84a"/><rect x="495" y="302.2" width="6.3" height="14.4" fill="#dde05a"/><rect x="507.6" y="309.4" width="6.3" height="7.2" fill="#d4d4d4"/>
<rect x="495" y="323.8" width="25.2" height="7.2" fill="#8b3a3b"/>
<rect x="495" y="295" width="25.2" height="36" fill="url(#gC)"/>
<!-- Melanoma -->
<rect x="531" y="295" width="28" height="28.8" fill="#2e526a"/>
<rect x="531" y="295" width="7" height="7.2" fill="#f1cd4f"/><rect x="552" y="295" width="7" height="7.2" fill="#1d3838"/><rect x="531" y="302.2" width="7" height="7.2" fill="#dde05a"/><rect x="538" y="309.4" width="14" height="7.2" fill="#d4d4d4"/><rect x="531" y="316.6" width="7" height="7.2" fill="#dde05a"/><rect x="545" y="316.6" width="7" height="7.2" fill="#d4d4d4"/>
<rect x="531" y="323.8" width="28" height="7.2" fill="#8b3a3b"/>
<rect x="531" y="295" width="28" height="36" fill="url(#gM)"/>
<rect x="530.3" y="293.5" width="8.4" height="45" fill="none" stroke="#d04040" stroke-width="0.7" rx="0.5"/>
<!-- Bladder -->
<rect x="567" y="295" width="36" height="36" fill="#d4d4d4"/>
<rect x="567" y="295" width="21.6" height="7.2" fill="#f1cd4f"/><rect x="588.6" y="295" width="7.2" height="7.2" fill="#dde05a"/><rect x="595.8" y="295" width="7.2" height="7.2" fill="#2e526a"/>
<rect x="567" y="309.4" width="36" height="7.2" fill="#2e526a"/><rect x="567" y="309.4" width="7.2" height="7.2" fill="#b8703e"/>
<rect x="567" y="323.8" width="36" height="7.2" fill="#8b3a3b"/><rect x="567" y="323.8" width="7.2" height="7.2" fill="#2e526a"/>
<rect x="567" y="295" width="36" height="36" fill="url(#gL)"/>
<g font-size="2.8" fill="#444">
<text x="338.5" y="336" textLength="61" lengthAdjust="spacing">O6 O4 O8 O2 O7 O8 O3 O9 O1</text>
<text x="408.5" y="336" textLength="41" lengthAdjust="spacing">BR3 BR1 BR2 BR4 BR5 BR6</text>
<text x="459.5" y="336" textLength="27" lengthAdjust="spacing">T1 T2 T3 T4</text>
<text x="495.5" y="336" textLength="24" lengthAdjust="spacing">L2 L3 L4 L1</text>
<text x="531.5" y="336" textLength="27" lengthAdjust="spacing">M1 M2 M3 M4</text>
<text x="567.5" y="336" textLength="35" lengthAdjust="spacing">B1 B2 B3 B4 B5</text>
</g>
<text x="618" y="296.5" font-size="3.2" fill="#333">Total tumoroid volume,</text>
<text x="618" y="300.7" font-size="3.2" fill="#333">% of medium control</text>
<rect x="618" y="303" width="6" height="8" fill="#1d3838"/><rect x="624.4" y="303" width="6" height="8" fill="#2e526a"/><rect x="630.8" y="303" width="6" height="8" fill="#dde05a"/><rect x="637.2" y="303" width="6" height="8" fill="#f1cd4f"/><rect x="643.6" y="303" width="6" height="8" fill="#d6a84a"/><rect x="650" y="303" width="6" height="8" fill="#b8703e"/><rect x="656.4" y="303" width="6" height="8" fill="#8b3a3b"/>
<text x="618" y="315" font-size="2.5" fill="#444" textLength="44" lengthAdjust="spacing">&lt;10 20 40 60 80 100 &gt;100</text>

<g class="p">
<text x="313" y="358.5" textLength="389" lengthAdjust="spacing">Fresh <tspan class="i">ex vivo</tspan> culture of a melanoma sample M1 presented here has shown mild responses (tumoroid size reduction) to</text>
<text x="313" y="366.5" textLength="389" lengthAdjust="spacing">immunomodulatory treatments (SEA and pembrolizumab) and strong responses to targeted therapy treatment (dabrafenib and</text>
<text x="313" y="374.5" textLength="389" lengthAdjust="spacing">trametinib) as shown in Figure 4. Genetic characterization of the sample identified heterozygous BRAF V600E mutation and</text>
<text x="313" y="382.5" textLength="389" lengthAdjust="spacing">IHC analysis showed a large proportion of immune cells (CD3, CD4, CD8, CD80 and CD68 positive cells) present, supporting</text>
<text x="313" y="390.5" textLength="389" lengthAdjust="spacing">the observed <tspan class="i">ex vivo</tspan> immuno-stimulatory drug action and responses. Part of the melanoma sample was allocated for PDO</text>
<text x="313" y="398.5" textLength="389" lengthAdjust="spacing">generation and biobanking. PDOs were also produced from breast cancer, TNBC, prostate cancer and CRC liver metastasis</text>
<text x="313" y="406.5" textLength="80" lengthAdjust="spacing">samples (data not shown).</text>
</g>
<text x="313" y="430.5" class="fc" textLength="389" lengthAdjust="spacing">Figure 4. <tspan class="i">Ex vivo</tspan> responses of melanoma sample M1: A.<tspan class="k"> (Left to right) Photograph of fresh resected sample from the clinic,</tspan></text>
<g class="p">
<text x="313" y="438.5" textLength="389" lengthAdjust="spacing">TL image of tumor clusters and single cells isolated during <tspan class="i">ex vivo</tspan> sample processing, fluorescence image of medium control</text>
<text x="313" y="446.5" textLength="389" lengthAdjust="spacing">from one well of 384 well plate HCI assay of M1 sample (DAPI – blue, actin – red), TL image of PDO culture generated from M1</text>
<text x="313" y="454.5" textLength="389" lengthAdjust="spacing">sample; <tspan fill="#3d6f99" font-weight="bold">B.</tspan> Graph depicting total tumoroid area of <tspan class="i">ex vivo</tspan> M1 sample normalized as percentage of medium control; <tspan fill="#3d6f99" font-weight="bold">C.</tspan> Tumoroid</text>
<text x="313" y="462.5" textLength="389" lengthAdjust="spacing">count of <tspan class="i">ex vivo</tspan> M1 sample upon treatments (left), fraction of dead cells normalized as percentage of medium control for <tspan class="i">ex vivo</tspan></text>
<text x="313" y="470.5" textLength="389" lengthAdjust="spacing">M1 sample upon treatments (right); <tspan fill="#3d6f99" font-weight="bold">D.</tspan> IHC staining images <tspan class="i">ex vivo</tspan> M1 tumor clusters and single cells that were fixed,</text>
<text x="313" y="478.5" textLength="158" lengthAdjust="spacing">embedded, sliced and stained for selected markers.</text>
</g>

<!-- Figure 4 -->
<text x="310" y="493" font-size="4.5" font-weight="bold" fill="#2b4d6e">A.</text>
<g font-size="2.2" fill="#555"><text x="316" y="499">Resected sample</text><text x="342" y="499">Tumor clusters</text><text x="367" y="499">Medium control</text><text x="394" y="499">PDO culture</text></g>
<rect x="314" y="503" width="24" height="24" fill="#a89a92"/><circle cx="326" cy="515" r="10" fill="#9a5048" stroke="#e0d4cc" stroke-width="1.2"/><circle cx="324" cy="513" r="4" fill="#c07a6a"/>
<rect x="340" y="503" width="24" height="24" fill="url(#gry)"/>
<rect x="366" y="503" width="24" height="24" fill="url(#mag)"/>
<rect x="392" y="503" width="24" height="24" fill="url(#lav)"/>
<text x="310" y="535" font-size="4.5" font-weight="bold" fill="#2b4d6e">C.</text>
<line x1="318" y1="536" x2="318" y2="577" stroke="#333" stroke-width="0.5"/><line x1="318" y1="577" x2="414" y2="577" stroke="#333" stroke-width="0.5"/>
<line x1="318" y1="540.5" x2="414" y2="540.5" stroke="#aaa" stroke-width="0.5"/>
<rect x="320" y="538" width="7" height="39" fill="#1a1a1a"/><rect x="329" y="541" width="7" height="36" fill="#7a2a2a"/><rect x="338" y="540" width="7" height="37" fill="#e8c090"/><rect x="347" y="546" width="7" height="31" fill="#d08a40"/><rect x="356" y="541" width="7" height="36" fill="#b89a50"/>
<g fill="#2f5a70"><rect x="365" y="566" width="6.5" height="11"/><rect x="373" y="566" width="6.5" height="11"/><rect x="381" y="566" width="6.5" height="11"/><rect x="389" y="563" width="6.5" height="14"/><rect x="397" y="565" width="6.5" height="12"/><rect x="405" y="565" width="6.5" height="12"/></g>
<text x="320" y="581.5" font-size="2" fill="#555" textLength="92" lengthAdjust="spacing">Med SEA Pem Ipi Dab Tram Dab Tram Dab Tram Stau</text>

<text x="418" y="494" font-size="4.5" font-weight="bold" fill="#2b4d6e">B.</text>
<line x1="425" y1="492" x2="425" y2="528" stroke="#333" stroke-width="0.5"/><line x1="425" y1="528" x2="525" y2="528" stroke="#333" stroke-width="0.5"/>
<line x1="425" y1="500" x2="525" y2="500" stroke="#aaa" stroke-width="0.5"/>
<line x1="431.5" y1="494" x2="431.5" y2="507" stroke="#111" stroke-width="0.5"/><rect x="429" y="496" width="5" height="8" fill="#1a1a1a"/>
<rect x="437" y="501" width="5" height="5" fill="#7a2a2a"/>
<rect x="445" y="499" width="5" height="1.5" fill="#e8c090"/>
<line x1="455.5" y1="500" x2="455.5" y2="509" stroke="#8a7a30" stroke-width="0.5"/><rect x="453" y="501" width="5" height="6" fill="#c8b040"/>
<rect x="461" y="498" width="5" height="4" fill="#c89a50"/>
<g fill="#2f5a70"><rect x="470" y="520.5" width="6" height="1"/><rect x="478" y="520.5" width="6" height="1"/><rect x="486" y="520.5" width="6" height="1"/><rect x="496" y="518.5" width="6" height="1.2"/><rect x="505" y="519.5" width="6" height="1.2"/><rect x="514" y="518.5" width="6" height="1.2"/></g>
<g><rect x="528" y="494" width="2.5" height="2" fill="#1a1a1a"/><rect x="528" y="498" width="2.5" height="2" fill="#7a2a2a"/><rect x="528" y="502" width="2.5" height="2" fill="#e8c090"/><rect x="528" y="506" width="2.5" height="2" fill="#c8b040"/><rect x="528" y="510" width="2.5" height="2" fill="#d08a40"/><rect x="528" y="514" width="2.5" height="2" fill="#2f5a70"/></g>
<text x="427" y="532" font-size="2" fill="#555" textLength="95" lengthAdjust="spacing">Med SEA Pem Ipi Dab Tram Dab Tram Dab Tram Stau</text>
<line x1="425" y1="537" x2="425" y2="574" stroke="#333" stroke-width="0.5"/><line x1="425" y1="574" x2="530" y2="574" stroke="#333" stroke-width="0.5"/>
<rect x="427" y="571" width="5" height="3" fill="#1a1a1a"/><rect x="434" y="573" width="5" height="1" fill="#7a2a2a"/><rect x="441" y="573" width="5" height="1" fill="#e8c090"/>
<g fill="#2f5a70"><rect x="474" y="558" width="6" height="16"/><rect x="482" y="556" width="6" height="18"/><rect x="490" y="560" width="6" height="14"/><rect x="498" y="556" width="6" height="18"/><rect x="506" y="555" width="6" height="19"/><rect x="514" y="553" width="6" height="21"/></g>
<rect x="522" y="541" width="7" height="33" fill="#e8d040"/>
<text x="427" y="578" font-size="2" fill="#555" textLength="100" lengthAdjust="spacing">Med SEA Pem Ipi Dab Tram Dab Tram Dab Tram Stau</text>

<text x="563" y="497" font-size="4.5" font-weight="bold" fill="#2b4d6e">D.</text>
<rect x="563" y="502" width="137" height="68" fill="#3a3a3a"/>
<rect x="564.5" y="505" width="32" height="30" fill="url(#ihc)"/><rect x="598.7" y="505" width="32" height="30" fill="url(#ihc2)"/><rect x="632.9" y="505" width="32" height="30" fill="url(#ihc2)"/><rect x="667.1" y="505" width="32" height="30" fill="url(#ihc2)"/>
<rect x="564.5" y="538" width="32" height="30" fill="url(#ihc2)"/><rect x="598.7" y="538" width="32" height="30" fill="url(#ihc2)"/><rect x="632.9" y="538" width="32" height="30" fill="url(#ihc2)"/><rect x="667.1" y="538" width="32" height="30" fill="url(#ihc2)"/>
<g fill="#6a4a8a"><circle cx="572" cy="512" r="2"/><circle cx="578" cy="518" r="1.6"/><circle cx="585" cy="510" r="1.5"/><circle cx="580" cy="526" r="1.4"/><circle cx="574" cy="548" r="1.3"/><circle cx="612" cy="520" r="1.2"/><circle cx="648" cy="515" r="1.3"/><circle cx="682" cy="552" r="1.2"/></g>

<!-- RIGHT COLUMN -->
<text x="725" y="122.5" class="h" textLength="92" lengthAdjust="spacingAndGlyphs">Results (continued)</text>
<g class="p">
<text x="725" y="130" textLength="209" lengthAdjust="spacing">Established PDOs generated from melanoma sample M1 were used</text>
<text x="725" y="137.64" textLength="214" lengthAdjust="spacing">in mono-culture and co-culture with allogeneic and autologous PBMCs.</text>
<text x="725" y="145.28" textLength="189" lengthAdjust="spacing">Treatment responses to dabrafenib and trametinib targeted therapies</text>
<text x="725" y="152.92" textLength="262" lengthAdjust="spacing">were preserved in tumor (Figure 5A-B). In co-cultures with autologous PBMCs total</text>
<text x="725" y="160.56" textLength="262" lengthAdjust="spacing">immune cell counts were reduced, indicating poor survival of autologous PBMCs</text>
<text x="725" y="168.2" textLength="262" lengthAdjust="spacing">from this donor (Figure 5C). Upon ICI treatment infiltration was increased upon</text>
<text x="725" y="175.84" textLength="262" lengthAdjust="spacing">treatment with pembrolizumab in co-cultures with autologous and allogenic PBMCs</text>
<text x="725" y="183.48" textLength="262" lengthAdjust="spacing">(Figure 5D). While no clear killing effects were seen for ICIs, the model showed</text>
<text x="725" y="191.12" textLength="262" lengthAdjust="spacing">general sensitivity to immune-mediated killing upon activation with SEA (Figure 5A-</text>
<text x="725" y="198.76" textLength="262" lengthAdjust="spacing">B). While it is difficult to show ICI sensitivity in this re-constituted model, other</text>
<text x="725" y="206.4" textLength="262" lengthAdjust="spacing">modalities, such as bispecific antibodies, are highly suitable for testing in this</text>
<text x="725" y="214.04" textLength="100" lengthAdjust="spacing">platform as shown on Figure 2B.</text>
</g>
<text x="725" y="234.2" class="fc" textLength="262" lengthAdjust="spacing">Figure 5. Co-culture responses of M1 organoids: A.<tspan class="k"> Representative images (top)</tspan></text>
<g class="p">
<text x="725" y="241.95" textLength="262" lengthAdjust="spacing">and organoid segmentation masks (bottom) of untreated organoid cultures (left),</text>
<text x="725" y="249.7" textLength="262" lengthAdjust="spacing">organoid cultures treated with Trametinib (middle) or organoid allogenic PBMC co-</text>
<text x="725" y="257.45" textLength="262" lengthAdjust="spacing">cultures treated with SEA (right); <tspan fill="#3d6f99" font-weight="bold">B.</tspan> Total organoid volume normalized as</text>
<text x="725" y="265.2" textLength="262" lengthAdjust="spacing">percentage of the medium control of organoid mono-cultures; <tspan fill="#3d6f99" font-weight="bold">C.</tspan> Total immune cell</text>
<text x="725" y="272.95" textLength="262" lengthAdjust="spacing">counts in co-cultures; <tspan fill="#3d6f99" font-weight="bold">D.</tspan> Infiltration in co-cultures, normalized to the total organoid</text>
<text x="725" y="280.7" textLength="114" lengthAdjust="spacing">count and the relative medium control.</text>
</g>

<!-- Figure 5 -->
<text x="726" y="296" font-size="4.5" font-weight="bold" fill="#2b4d6e">A.</text>
<rect x="740" y="297" width="27" height="25" rx="3" fill="url(#pur)"/>
<rect x="772" y="297" width="27" height="25" rx="3" fill="#24163a"/>
<rect x="803" y="297" width="27" height="25" rx="3" fill="url(#pur)"/>
<circle cx="816" cy="309" r="6" fill="#8a8ac0" opacity="0.6"/><circle cx="816" cy="309" r="2.5" fill="#c0c8e8" opacity="0.8"/>
<rect x="740" y="327" width="27" height="25" rx="3" fill="url(#spk)"/>
<rect x="772" y="327" width="27" height="25" rx="3" fill="url(#spk2)"/>
<rect x="803" y="327" width="27" height="25" rx="3" fill="url(#spk)"/>
<g font-size="2.2" fill="#444"><text x="743" y="357">Untreated</text><text x="774" y="357">0.5µM Trametinib</text><text x="804" y="357">Co-culture SEA</text><text x="741" y="361">Organoid culture</text><text x="774" y="361">Organoid culture</text><text x="804" y="361">Allogenic PBMC</text></g>
<g font-size="2.2"><text x="832" y="305" fill="#888">DAPI</text><text x="832" y="308.5" fill="#8a4ab0">Actin</text><text x="832" y="312" fill="#7a9a30">Immune cells</text></g>
<text x="735" y="318" font-size="2.2" fill="#444" transform="rotate(-90 735 318)">Immunofluorescence</text>
<text x="735" y="348" font-size="2.2" fill="#444" transform="rotate(-90 735 348)">Segmentation</text>

<text x="858" y="296" font-size="4.5" font-weight="bold" fill="#2b4d6e">C.</text>
<line x1="868" y1="296" x2="868" y2="342" stroke="#333" stroke-width="0.5"/><line x1="868" y1="342" x2="965" y2="342" stroke="#333" stroke-width="0.5"/>
<g><rect x="870" y="339" width="4" height="3" fill="#1a1a1a"/><rect x="874" y="339.5" width="4" height="2.5" fill="#e8c090"/><rect x="878" y="339" width="4" height="3" fill="#c8b040"/>
<rect x="896" y="302" width="4.5" height="40" fill="#1a1a1a"/><rect x="901" y="305" width="4.5" height="37" fill="#e8c090"/><rect x="906" y="305" width="4.5" height="37" fill="#d08a40"/><rect x="911" y="300" width="4.5" height="42" fill="#c8b040"/><rect x="916" y="312" width="4.5" height="30" fill="#8a2a2a"/>
<rect x="925" y="340" width="4" height="2" fill="#1a1a1a"/><rect x="929" y="339.5" width="4" height="2.5" fill="#e8c090"/><rect x="933" y="340" width="4" height="2" fill="#c8b040"/>
<rect x="941" y="310" width="4.5" height="32" fill="#1a1a1a"/><rect x="946" y="312" width="4.5" height="30" fill="#e8c090"/><rect x="951" y="312" width="4.5" height="30" fill="#d08a40"/><rect x="956" y="309" width="4.5" height="33" fill="#c8b040"/><rect x="961" y="312" width="4" height="30" fill="#8a2a2a"/></g>
<g><rect x="967" y="295" width="2" height="1.5" fill="#1a1a1a"/><rect x="967" y="298" width="2" height="1.5" fill="#e8c090"/><rect x="967" y="301" width="2" height="1.5" fill="#d08a40"/><rect x="967" y="304" width="2" height="1.5" fill="#c8b040"/><rect x="967" y="307" width="2" height="1.5" fill="#8a2a2a"/></g>
<g fill="none" stroke="#666" stroke-width="0.35">
<rect x="868" y="343" width="97" height="22"/><line x1="868" y1="352" x2="965" y2="352"/><line x1="868" y1="358" x2="965" y2="358"/><line x1="892" y1="343" x2="892" y2="365"/><line x1="922" y1="343" x2="922" y2="365"/><line x1="939" y1="343" x2="939" y2="365"/>
<path d="M872,343v9M876,343v9M880,343v9M884,343v9M888,343v9M898,343v9M903,343v9M908,343v9M913,343v9M918,343v9M926,343v9M930,343v9M934,343v9M944,343v9M949,343v9M954,343v9M959,343v9"/>
</g>

<text x="727" y="370" font-size="4.5" font-weight="bold" fill="#2b4d6e">B.</text>
<line x1="743" y1="373" x2="743" y2="418" stroke="#333" stroke-width="0.5"/><line x1="743" y1="418" x2="828" y2="418" stroke="#333" stroke-width="0.5"/>
<line x1="743" y1="375" x2="828" y2="375" stroke="#999" stroke-width="0.4"/>
<rect x="745" y="375" width="4" height="43" fill="#1a1a1a"/><rect x="750" y="375" width="4" height="43" fill="#999"/>
<rect x="757" y="394" width="4" height="24" fill="#2c5f70"/><rect x="762" y="395" width="4" height="23" fill="#4d8aa0"/><rect x="767" y="395" width="4" height="23" fill="#2c5f70"/><rect x="772" y="394" width="4" height="24" fill="#4d8aa0"/><rect x="777" y="396" width="4" height="22" fill="#2c5f70"/><rect x="782" y="400" width="4" height="18" fill="#4d8aa0"/><rect x="787" y="393" width="4" height="25" fill="#d8d860"/>
<rect x="793" y="377" width="4" height="41" fill="#4a1a1a"/><rect x="797.5" y="377" width="4" height="41" fill="#e8a060"/><rect x="802" y="376" width="4" height="42" fill="#f0c090"/>
<rect x="808" y="375" width="4" height="43" fill="#6a2a2a"/><rect x="812.5" y="377" width="4" height="41" fill="#e0b070"/><rect x="817" y="378" width="4" height="40" fill="#d8a860"/><rect x="821.5" y="392" width="4" height="26" fill="#a03030"/>
<rect x="824" y="403" width="2.5" height="15" fill="#2c4040"/><rect x="826.5" y="403" width="2.5" height="15" fill="#c8b040"/>
<g><rect x="838" y="373" width="2" height="1.5" fill="#1a1a1a"/><rect x="838" y="376" width="2" height="1.5" fill="#8a2a2a"/><rect x="838" y="379" width="2" height="1.5" fill="#e8a060"/><rect x="838" y="382" width="2" height="1.5" fill="#c8b040"/><rect x="838" y="385" width="2" height="1.5" fill="#2c5f70"/><rect x="838" y="388" width="2" height="1.5" fill="#4d8aa0"/><rect x="838" y="391" width="2" height="1.5" fill="#d8d860"/></g>
<g fill="none" stroke="#666" stroke-width="0.35">
<rect x="743" y="419" width="85" height="28"/><line x1="743" y1="428" x2="828" y2="428"/><line x1="743" y1="436" x2="828" y2="436"/><line x1="743" y1="442" x2="828" y2="442"/><line x1="755" y1="419" x2="755" y2="436"/><line x1="791" y1="419" x2="791" y2="442"/><line x1="807" y1="419" x2="807" y2="442"/>
<path d="M759,419v9M764,419v9M769,419v9M774,419v9M779,419v9M784,419v9M795,419v9M800,419v9M811,419v9M815,419v9M819,419v9M823,419v9"/>
</g>

<text x="860" y="370" font-size="4.5" font-weight="bold" fill="#2b4d6e">D.</text>
<line x1="877" y1="373" x2="877" y2="418" stroke="#333" stroke-width="0.5"/><line x1="877" y1="418" x2="965" y2="418" stroke="#333" stroke-width="0.5"/>
<rect x="879" y="408" width="4" height="10" fill="#1a1a1a"/><rect x="884" y="407" width="4" height="11" fill="#e8c090"/><rect x="889" y="404" width="4" height="14" fill="#c8b040"/><rect x="894" y="410" width="4" height="8" fill="#d08a40"/><rect x="899" y="414" width="3" height="4" fill="#4a1a1a"/>
<rect x="903" y="408" width="4" height="10" fill="#1a1a1a"/><rect x="908" y="409" width="4" height="9" fill="#e8c090"/><rect x="913" y="406" width="4" height="12" fill="#c8b040"/><rect x="918" y="408" width="4" height="10" fill="#d08a40"/><rect x="922" y="414" width="3" height="4" fill="#4a1a1a"/>
<rect x="926" y="404" width="4" height="14" fill="#1a1a1a"/><rect x="931" y="396" width="4" height="22" fill="#c8b040"/><rect x="936" y="388" width="4" height="30" fill="#b8a050"/><line x1="938" y1="375" x2="938" y2="388" stroke="#b8a050" stroke-width="0.4"/><rect x="941" y="400" width="4" height="18" fill="#e8c090"/><rect x="946" y="411" width="3" height="7" fill="#4a1a1a"/>
<rect x="949" y="406" width="4" height="12" fill="#1a1a1a"/><rect x="954" y="407" width="4" height="11" fill="#e8c090"/><rect x="959" y="407" width="4" height="11" fill="#c8b040"/><rect x="963" y="414" width="2" height="4" fill="#4a1a1a"/>
<g><rect x="967" y="373" width="2" height="1.5" fill="#1a1a1a"/><rect x="967" y="376" width="2" height="1.5" fill="#e8c090"/><rect x="967" y="379" width="2" height="1.5" fill="#c8b040"/><rect x="967" y="382" width="2" height="1.5" fill="#d08a40"/></g>
<g fill="none" stroke="#666" stroke-width="0.35">
<rect x="877" y="419" width="88" height="28"/><line x1="877" y1="428" x2="965" y2="428"/><line x1="877" y1="436" x2="965" y2="436"/><line x1="877" y1="442" x2="965" y2="442"/><line x1="903" y1="419" x2="903" y2="442"/><line x1="925" y1="419" x2="925" y2="442"/><line x1="948" y1="419" x2="948" y2="442"/>
<path d="M882,419v9M887,419v9M892,419v9M897,419v9M908,419v9M913,419v9M918,419v9M931,419v9M936,419v9M941,419v9M954,419v9M959,419v9"/>
</g>

<text x="725" y="468.5" class="h">Conclusion</text>
<g class="p">
<text x="725" y="474.5" textLength="262" lengthAdjust="spacing" dy="0">Choice of the pre-clinical model for immuno-oncology studies relies on multiple</text>
<text x="725" y="482" textLength="262" lengthAdjust="spacing">factors such as biological relevance, replicability, TME representation, and</text>
<text x="725" y="489.5" textLength="262" lengthAdjust="spacing">scalability. Here we present a spectrum of assays ranging from complex ex vivo</text>
<text x="725" y="497" textLength="262" lengthAdjust="spacing">fresh tissue cultures (EVPT) for 'close to the clinic' scenarios to more scalable PDO</text>
<text x="725" y="504.5" textLength="262" lengthAdjust="spacing">models co-cultured with allogeneic and/or autologous PBMCs for high-throughput</text>
<text x="725" y="512" textLength="87" lengthAdjust="spacing">mechanistic drug screenings.</text>
</g>
<!-- Conclusion diagram -->
<rect x="738" y="528" width="11" height="11" fill="#2e5f70"/>
<g fill="none" stroke="#d0e6ee" stroke-width="0.6"><circle cx="741.5" cy="531.5" r="1.8"/><circle cx="745.5" cy="531.5" r="1.8"/><circle cx="743.5" cy="535.5" r="1.8"/></g>
<g><circle cx="754" cy="534" r="1" fill="#888"/><circle cx="757" cy="531" r="1" fill="#d8b040"/><circle cx="758" cy="536" r="1" fill="#777"/><circle cx="760" cy="533" r="0.8" fill="#bbb"/></g>
<rect x="769" y="528" width="71" height="14" rx="2" fill="#2d5f70"/>
<text x="804.5" y="536.5" font-size="3.8" font-style="italic" fill="#fff" text-anchor="middle">Allogeneic co-cultures with PDO</text>
<rect x="762" y="546" width="83" height="20" rx="3" fill="#f2b37e" stroke="#e59c62" stroke-width="0.5"/>
<g font-size="3" fill="#4a3020" text-anchor="middle"><text x="803.5" y="551.5">Straightforward set-up</text><text x="803.5" y="555.3">High throughput screening</text><text x="803.5" y="559.1">Access to well-defined PDO models and</text><text x="803.5" y="562.9">donors</text></g>
<rect x="863" y="528" width="59" height="14" rx="2" fill="#2d5f70"/>
<text x="892.5" y="536.5" font-size="3.8" font-style="italic" fill="#fff" text-anchor="middle"><tspan>Ex vivo</tspan> patient tissue platform</text>
<rect x="856" y="546" width="74" height="20" rx="3" fill="#f2b37e" stroke="#e59c62" stroke-width="0.5"/>
<g font-size="3" fill="#4a3020" text-anchor="middle"><text x="893" y="552.5">Complexity of native TME preserved</text><text x="893" y="556.5">Medium throughput</text><text x="893" y="560.5">ICI sensitivity preserved</text></g>
<g fill="#9a7a6a"><circle cx="936" cy="533" r="1.5"/><circle cx="940" cy="530" r="1.5"/><circle cx="944" cy="534" r="1.5"/><circle cx="948" cy="531" r="1.5"/><circle cx="952" cy="535" r="1.5"/><circle cx="938" cy="537" r="1.5"/><circle cx="943" cy="539" r="1.5"/><circle cx="947" cy="537" r="1.5"/><circle cx="951" cy="540" r="1.3"/><circle cx="946" cy="528" r="1.3"/><circle cx="954" cy="530" r="1.2"/></g>
<text x="778" y="574.5" font-size="3.3" fill="#666">Scalable</text>
<rect x="798" y="572.5" width="105" height="1.8" fill="url(#scl)"/>
<text x="905" y="574.5" font-size="3.3" fill="#666">Physiologically relevant</text>
<polygon points="845,583 855,583 850,577" fill="#2d4f6a"/>

<!-- FOOTER -->
<rect x="0" y="592" width="993" height="48" fill="url(#fg)"/>
<circle cx="27" cy="618" r="9" fill="#fff"/>
<path d="M20,616 q3.5,-3 7,0 t7,0 M20,620 q3.5,-3 7,0 t7,0" stroke="#2c6175" stroke-width="1.1" fill="none"/>
<text x="41" y="622" font-family="Liberation Serif,serif" font-size="9.5" fill="#fff" textLength="104" lengthAdjust="spacingAndGlyphs" style="font-family:'Liberation Serif',serif">A JSR Life Sciences Company</text>
<text x="180" y="621" class="ft" font-size="9" textLength="217" lengthAdjust="spacingAndGlyphs">To discuss this poster email consultation@crownbio.com</text>
<text x="438" y="621.5" class="ft" font-size="9" textLength="57" lengthAdjust="spacingAndGlyphs">Copyright 2024</text>
<text x="724" y="620" class="ft" font-size="12" textLength="108" lengthAdjust="spacingAndGlyphs">Download this poster:</text>
<rect x="840" y="598" width="38" height="38" fill="url(#qr)"/>
<rect x="840" y="598" width="38" height="38" fill="none" stroke="#fff" stroke-width="1"/>
<path d="M955,600 C942,600 940,614 952,618 C966,622 968,636 955,639" stroke="url(#rib)" stroke-width="6" fill="none"/>
<path d="M960,600 C972,602 972,614 960,618 C948,622 946,634 958,639" stroke="#e58a3a" stroke-width="4" fill="none" opacity="0.85"/>
</svg>
</body></html>
